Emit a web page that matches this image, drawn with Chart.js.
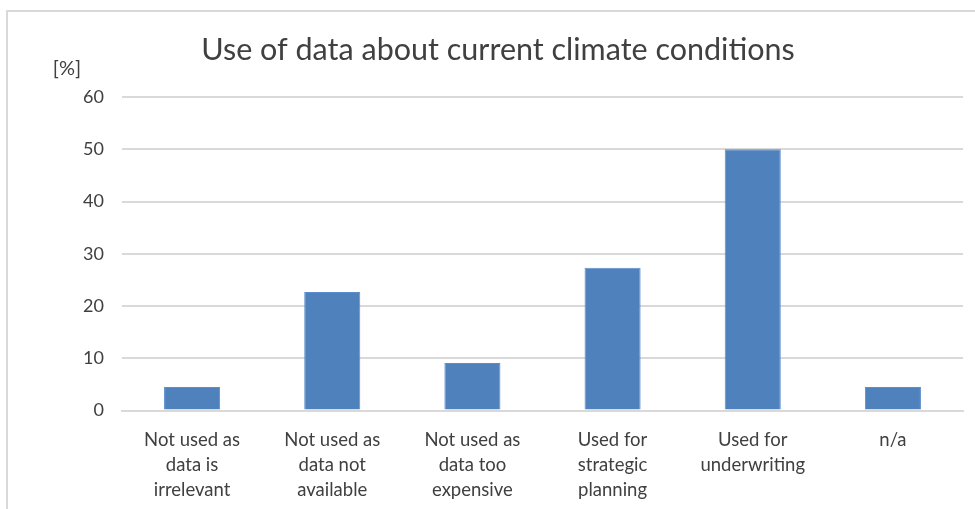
<!DOCTYPE html>
<html>
<head>
<meta charset="utf-8">
<script src="https://cdn.jsdelivr.net/npm/chart.js@4"></script>
<style>
  html, body { margin: 0; padding: 0; background: #fff; }
  #wrap { position: relative; width: 975px; height: 509px; overflow: hidden; }
  #frame { position: absolute; left: 6px; top: 10px; width: 1100px; height: 600px;
           border-left: 2px solid #d9d9d9; border-top: 2px solid #d9d9d9; box-sizing: border-box; }
  canvas { position: absolute; left: 0; top: 0; }
</style>
</head>
<body>
<div id="wrap">
  <div id="frame"></div>
  <canvas id="c" width="975" height="509"></canvas>
</div>
<script>
// Survey answers (share of respondents, %)
const categories = [
  ['Not used as', 'data is', 'irrelevant'],
  ['Not used as', 'data not', 'available'],
  ['Not used as', 'data too', 'expensive'],
  ['Used for', 'strategic', 'planning'],
  ['Used for', 'underwriting'],
  ['n/a']
];
const shares = [4.5, 22.7, 9.1, 27.3, 50.0, 4.5];
const yTicks = [0, 10, 20, 30, 40, 50, 60];

const chartTitle = 'Use of data about current climate conditions';
const unitLabel = '[%]';

const FONT = 'Lato, "Open Sans", sans-serif';
const TEXT = '#404040';

// Title and unit label drawn on the canvas
const headerPlugin = {
  id: 'header',
  afterDraw(chart) {
    const ctx = chart.ctx;
    ctx.save();
    ctx.fillStyle = TEXT;
    ctx.textAlign = 'center';
    ctx.textBaseline = 'alphabetic';
    ctx.font = '30.5px ' + FONT;
    ctx.fillText(chartTitle, 498, 60);
    ctx.font = '20px ' + FONT;
    ctx.textBaseline = 'middle';
    ctx.fillText(unitLabel, 67, 69);
    ctx.restore();
  }
};

new Chart(document.getElementById('c'), {
  type: 'bar',
  data: {
    labels: categories,
    datasets: [{
      data: shares,
      backgroundColor: '#4f81bd',
      borderColor: '#5b8dcc',
      borderWidth: 1,
      barPercentage: 0.4,
      categoryPercentage: 1.0
    }]
  },
  options: {
    responsive: false,
    animation: false,
    devicePixelRatio: 1,
    layout: { padding: { top: 97, right: 12, bottom: 0, left: 0 } },
    plugins: {
      legend: { display: false },
      tooltip: { enabled: false },
      title: { display: false }
    },
    scales: {
      x: {
        grid: { display: false, drawTicks: false },
        border: { display: true, color: '#d9d9d9', width: 2 },
        ticks: {
          color: TEXT,
          font: { family: FONT, size: 18.5, lineHeight: 1.35 },
          padding: 17,
          maxRotation: 0,
          minRotation: 0,
          autoSkip: false
        },
        afterFit(scale) { scale.height = 98.5; }
      },
      y: {
        min: 0,
        max: 60,
        afterBuildTicks(scale) { scale.ticks = yTicks.map(v => ({ value: v })); },
        grid: { color: '#d9d9d9', lineWidth: 2, drawTicks: false },
        border: { display: false },
        ticks: {
          color: TEXT,
          font: { family: FONT, size: 18 },
          padding: 18
        },
        afterFit(scale) { scale.width = 122; }
      }
    }
  },
  plugins: [headerPlugin]
});
</script>
</body>
</html>
